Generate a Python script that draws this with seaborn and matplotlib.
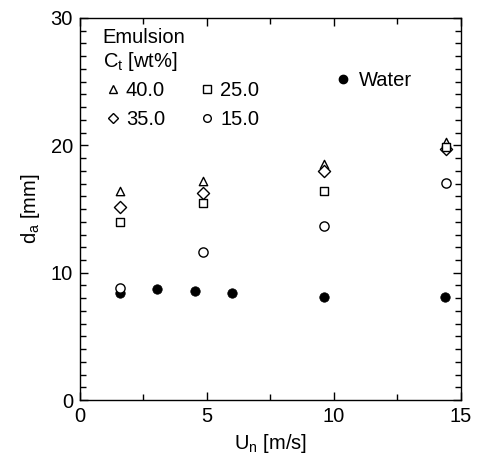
import matplotlib
matplotlib.use("Agg")
import matplotlib.pyplot as plt
import seaborn as sns
import pandas as pd
from matplotlib.ticker import MultipleLocator

sns.set_theme(style="ticks")
plt.rcParams['font.family'] = ['Liberation Sans', 'DejaVu Sans']
plt.rcParams['mathtext.fontset'] = 'custom'
plt.rcParams['mathtext.rm'] = 'Liberation Sans'
plt.rcParams['mathtext.it'] = 'Liberation Sans'
plt.rcParams['text.color'] = 'black'
plt.rcParams['axes.labelcolor'] = 'black'
plt.rcParams['xtick.color'] = 'black'
plt.rcParams['ytick.color'] = 'black'

# Emulsion data
emul_x = [1.57, 4.85, 9.6, 14.4]
ct40 = [16.4, 17.2, 18.55, 20.3]
ct35 = [15.2, 16.3, 18.0, 19.7]
ct25 = [14.0, 15.5, 16.45, 19.9]
ct15 = [8.8, 11.6, 13.7, 17.05]
# Water data
water_x = [1.57, 3.02, 4.53, 6.0, 9.6, 14.37]
water_y = [8.45, 8.74, 8.6, 8.45, 8.1, 8.1]

FS = 14.5

fig = plt.figure(figsize=(4.78, 4.61), dpi=100)
ax = fig.add_axes([0.167, 0.132, 0.797, 0.829])

series = [("40.0", ct40, "^", 36), ("35.0", ct35, "D", 38),
          ("25.0", ct25, "s", 40), ("15.0", ct15, "o", 44)]
handles = []
for lab, ys, mk, s in series:
    df = pd.DataFrame({"x": emul_x, "y": ys})
    sns.scatterplot(data=df, x="x", y="y", marker=mk, s=s, facecolor="white",
                    edgecolor="black", linewidth=1.0, ax=ax, zorder=3)
    h = plt.Line2D([], [], linestyle="none", marker=mk, markersize=5.5,
                   markerfacecolor="white", markeredgecolor="black",
                   markeredgewidth=1.0, label=lab)
    handles.append(h)

dfw = pd.DataFrame({"x": water_x, "y": water_y})
sns.scatterplot(data=dfw, x="x", y="y", marker="o", s=46, color="black",
                edgecolor="black", ax=ax, zorder=2)

ax.set_xlim(0, 15)
ax.set_ylim(0, 30)
ax.xaxis.set_major_locator(MultipleLocator(5))
ax.xaxis.set_minor_locator(MultipleLocator(2.5))
ax.yaxis.set_major_locator(MultipleLocator(10))
ax.yaxis.set_minor_locator(MultipleLocator(1))
ax.tick_params(which="both", direction="in", top=True, right=True,
               labelsize=FS, colors="black", width=1.0)
ax.tick_params(which="major", length=6, pad=5)
ax.tick_params(which="minor", length=4.5)
for sp in ax.spines.values():
    sp.set_linewidth(1.0)
    sp.set_color("black")

ax.set_xlabel("U$_\\mathrm{n}$ [m/s]", fontsize=FS, labelpad=4)
ax.set_ylabel("d$_\\mathrm{a}$ [mm]", fontsize=FS, labelpad=6)

leg = ax.legend(handles=handles, ncol=2, loc="upper left",
                title="Emulsion\nC$_\\mathrm{t}$ [wt%]",
                frameon=False, fontsize=FS, title_fontsize=FS,
                handletextpad=0.15, columnspacing=1.6, handlelength=1.0,
                labelspacing=0.5, borderaxespad=0.0, borderpad=0.0,
                bbox_to_anchor=(0.06, 0.975))
leg._legend_box.align = "left"
leg._legend_box.sep = 6
ax.add_artist(leg)

wh = plt.Line2D([], [], linestyle="none", marker="o", markersize=6,
                markerfacecolor="black", markeredgecolor="black", label="Water")
ax.legend(handles=[wh], loc="upper left", bbox_to_anchor=(0.665, 0.86),
          frameon=False, fontsize=FS, handletextpad=0.3, handlelength=1.0,
          borderaxespad=0.0, borderpad=0.0)

fig.savefig("out.png", dpi=100)
